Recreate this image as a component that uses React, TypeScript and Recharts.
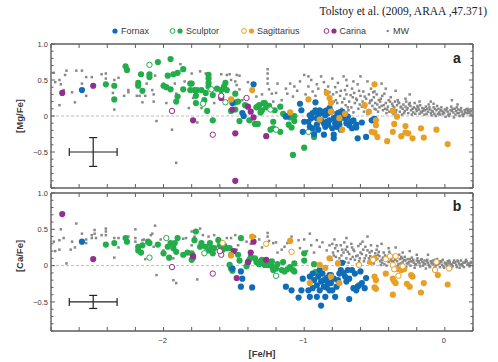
import React from 'react';
import { ScatterChart, Scatter, XAxis, YAxis, ReferenceLine, ErrorBar } from 'recharts';

type Pt = [number, number];

// tick positions
const xTicks = [-2.8, -2.6, -2.4, -2.2, -2.0, -1.8, -1.6, -1.4, -1.2, -1.0, -0.8, -0.6, -0.4, -0.2, 0.0, 0.2];
const xLabels = [-2, -1, 0];
const yTicksA = [-1.0, -0.9, -0.8, -0.7, -0.6, -0.5, -0.4, -0.3, -0.2, -0.1, 0, 0.1, 0.2, 0.3, 0.4, 0.5, 0.6, 0.7, 0.8, 0.9, 1.0];
const yTicksB = [-0.9, -0.8, -0.7, -0.6, -0.5, -0.4, -0.3, -0.2, -0.1, 0, 0.1, 0.2, 0.3, 0.4, 0.5, 0.6, 0.7, 0.8, 0.9, 1.0];
const yLabels = [-0.5, 0, 0.5, 1.0];

// ---- panel a: [Mg/Fe] ----
const mwMg: Pt[] = [
  [-2.78, 0.60], [-2.77, 0.47], [-2.74, 0.50], [-2.73, 0.44], [-2.71, 0.36], [-2.74, 0.15], [-2.70, 0.57], [-2.69, 0.63],
  [-2.62, 0.63], [-2.58, 0.63], [-2.58, 0.45], [-2.55, 0.54], [-2.55, 0.28], [-2.65, 0.33], [-2.63, 0.19], [-2.51, 0.54],
  [-2.44, 0.58], [-2.41, 0.59], [-2.41, 0.52], [-2.35, 0.50], [-2.32, 0.53], [-2.36, 0.32], [-2.35, 0.09], [-2.25, 0.36],
  [-2.25, 0.33], [-2.28, 0.28], [-2.19, 0.28], [-2.17, 0.28], [-2.15, 0.19], [-2.13, 0.28], [-2.12, 0.45], [-2.08, 0.36],
  [-2.07, 0.30], [-2.07, 0.20], [-2.06, 0.56], [-2.05, -0.07], [-2.00, 0.45], [-1.92, 0.45], [-1.91, 0.31], [-1.94, -0.19],
  [-1.91, -0.65], [-1.88, 0.72], [-1.85, 0.48], [-1.82, 0.11], [-1.98, 0.18],
  [-1.80, 0.59], [-1.74, 0.62], [-1.70, 0.59], [-1.59, 0.58], [-1.55, 0.57], [-1.53, 0.58], [-1.48, 0.57], [-1.46, 0.56],
  [-1.49, 0.48], [-1.48, 0.43], [-1.46, 0.37], [-1.44, 0.22], [-1.26, 0.65], [-1.26, 0.59], [-1.26, 0.52], [-1.26, 0.45],
  [-1.25, 0.37], [-1.23, 0.31], [-1.20, 0.32], [-1.16, 0.22], [-1.13, 0.38], [-1.12, 0.31], [-1.10, 0.45], [-1.07, 0.41],
  [-1.03, 0.48], [-1.00, 0.57], [-0.97, 0.55], [-0.97, 0.41], [-0.95, 0.50], [-0.94, 0.34], [-0.91, 0.44], [-0.88, 0.55],
  [-0.85, 0.36], [-0.83, 0.41], [-1.76, -0.09], [-1.73, 0.11], [-1.79, 0.25], [-1.64, 0.18], [-1.52, 0.50], [-1.19, 0.45],
  [-1.34, 0.27], [-1.62, 0.40], [-1.57, 0.45], [-1.40, 0.47], [-1.30, 0.30], [-1.22, 0.20], [-1.08, 0.27], [-1.05, 0.35],
  [-0.99, 0.30], [-0.92, 0.28], [-0.90, 0.38], [-0.86, 0.47], [-0.82, 0.33],
  [-0.80, 0.52], [-0.795, 0.30], [-0.81, 0.12], [-0.78, 0.40], [-0.775, 0.22], [-0.785, 0.05], [-0.76, 0.46], [-0.765, 0.18],
  [-0.74, 0.35], [-0.735, 0.10], [-0.745, 0.28], [-0.72, 0.55], [-0.715, 0.24], [-0.70, 0.30], [-0.705, 0.15], [-0.695, 0.42],
  [-0.68, 0.20], [-0.685, 0.08], [-0.66, 0.38], [-0.655, 0.26], [-0.665, 0.12], [-0.64, 0.18], [-0.645, 0.32], [-0.62, 0.44],
  [-0.615, 0.10], [-0.625, 0.22], [-0.60, 0.28], [-0.605, 0.16], [-0.58, 0.34], [-0.575, 0.06], [-0.585, 0.20], [-0.56, 0.24],
  [-0.565, 0.12], [-0.54, 0.30], [-0.535, 0.18], [-0.545, 0.08], [-0.52, 0.22], [-0.515, 0.14], [-0.525, 0.38], [-0.50, 0.10],
  [-0.505, 0.26], [-0.495, 0.18], [-0.48, 0.16], [-0.475, 0.06], [-0.485, 0.30], [-0.46, 0.20], [-0.465, 0.12], [-0.455, 0.24],
  [-0.44, 0.08], [-0.435, 0.15], [-0.445, 0.28], [-0.42, 0.18], [-0.425, 0.10], [-0.415, 0.04], [-0.40, 0.22], [-0.405, 0.13],
  [-0.395, 0.06], [-0.38, 0.09], [-0.375, 0.17], [-0.385, 0.26], [-0.36, 0.12], [-0.365, 0.03], [-0.355, 0.20], [-0.34, 0.15],
  [-0.345, 0.08], [-0.335, 0.22], [-0.32, 0.06], [-0.315, 0.12], [-0.325, 0.18], [-0.30, 0.10], [-0.305, 0.02], [-0.295, 0.16],
  [-0.28, 0.13], [-0.285, 0.07], [-0.275, 0.20], [-0.26, 0.04], [-0.265, 0.11], [-0.255, 0.16], [-0.24, 0.08], [-0.245, 0.14],
  [-0.235, 0.02], [-0.22, 0.12], [-0.225, 0.05], [-0.215, 0.18], [-0.20, 0.07], [-0.205, 0.10], [-0.195, 0.14], [-0.18, 0.03],
  [-0.185, 0.09], [-0.175, 0.15], [-0.16, 0.11], [-0.165, 0.05], [-0.155, 0.07], [-0.14, 0.08], [-0.145, 0.02], [-0.135, 0.13],
  [-0.12, 0.06], [-0.125, 0.10], [-0.115, 0.16], [-0.10, 0.04], [-0.105, 0.09], [-0.095, 0.01], [-0.08, 0.12], [-0.085, 0.06],
  [-0.075, 0.03], [-0.06, 0.08], [-0.065, 0.00], [-0.055, 0.14], [-0.04, 0.05], [-0.045, 0.10], [-0.035, 0.02], [-0.02, 0.07],
  [-0.025, 0.12], [-0.015, 0.03], [0.00, 0.09], [-0.005, 0.04], [0.005, -0.01], [0.02, 0.06], [0.015, 0.11], [0.025, 0.02],
  [0.04, 0.08], [0.035, 0.03], [0.045, 0.13], [0.06, 0.05], [0.055, 0.10], [0.065, -0.02], [0.08, 0.07], [0.075, 0.02],
  [0.085, 0.12], [0.10, 0.04], [0.095, 0.09], [0.105, 0.00], [0.12, 0.06], [0.115, 0.11], [0.125, 0.02], [0.14, 0.08],
  [0.135, 0.03], [0.145, 0.05], [0.16, 0.10], [0.155, 0.04], [0.165, 0.07], [0.18, 0.06], [0.175, 0.09], [0.185, 0.02],
  [-0.60, 0.55], [-0.45, 0.45], [-0.55, 0.48], [-0.35, 0.35], [-0.25, 0.30], [-0.10, 0.20], [0.05, 0.22],
  [-0.79, 0.20], [-0.77, 0.33], [-0.75, 0.08], [-0.73, 0.19], [-0.71, 0.36], [-0.69, 0.12], [-0.67, 0.29], [-0.65, 0.05],
  [-0.63, 0.24], [-0.61, 0.35], [-0.59, 0.13], [-0.57, 0.27], [-0.55, 0.03], [-0.53, 0.21], [-0.51, 0.33], [-0.49, 0.09],
  [-0.47, 0.22], [-0.45, 0.14], [-0.43, 0.31], [-0.41, 0.09], [-0.39, 0.20], [-0.37, 0.14], [-0.35, 0.05], [-0.33, 0.19],
  [-0.31, 0.13], [-0.29, 0.04], [-0.27, 0.09], [-0.25, 0.18], [-0.23, 0.10], [-0.21, 0.03], [-0.19, 0.12], [-0.17, 0.06],
  [-0.15, 0.10], [-0.13, 0.03], [-0.11, 0.12], [-0.09, 0.07], [-0.07, 0.10], [-0.05, 0.03], [-0.03, 0.08], [-0.01, 0.05],
  [0.01, 0.08], [0.03, 0.00], [0.05, 0.07], [0.07, 0.10], [0.09, 0.04], [0.11, 0.08], [0.13, 0.00], [0.15, 0.09],
  [0.17, 0.04], [0.19, 0.07], [-0.28, 0.24], [-0.18, 0.20], [-0.08, 0.17], [0.09, 0.16], [-0.42, 0.38], [-0.65, 0.48],
  [-0.70, 0.50], [-0.50, 0.34],
];
const sclMg: Pt[] = [
  [-2.27, 0.69], [-2.26, 0.64], [-2.41, 0.44], [-2.35, 0.42], [-2.35, 0.23], [-2.18, 0.46], [-2.18, 0.42], [-2.16, 0.58],
  [-2.15, 0.35], [-2.10, 0.58], [-2.10, 0.54], [-2.04, 0.75], [-1.95, 0.79], [-1.97, 0.56], [-1.93, 0.58], [-1.90, 0.60],
  [-1.86, 0.65], [-2.00, 0.42], [-1.98, 0.40], [-1.95, 0.37], [-1.90, 0.27], [-1.91, 0.20], [-1.86, 0.37], [-1.81, 0.45],
  [-1.81, 0.36], [-1.80, 0.45], [-1.78, 0.36], [-1.76, 0.36], [-1.73, 0.36], [-1.77, 0.28], [-1.77, 0.18], [-1.71, 0.22],
  [-1.70, 0.32], [-1.69, 0.07], [-1.68, 0.57], [-1.68, 0.52], [-1.68, 0.46], [-1.68, 0.41], [-1.65, 0.29], [-1.65, -0.06],
  [-1.62, 0.38], [-1.59, 0.36], [-1.56, 0.46], [-1.57, 0.41], [-1.55, 0.36], [-1.49, 0.31], [-1.49, 0.19], [-1.47, 0.20],
  [-1.52, 0.07], [-1.49, 0.09], [-1.46, -0.07], [-1.39, -0.06], [-1.33, 0.13], [-1.32, 0.15], [-1.29, 0.18], [-1.35, -0.11],
  [-1.33, -0.11], [-1.30, 0.08], [-1.21, 0.08], [-1.22, -0.08], [-1.24, -0.19], [-1.17, 0.13], [-1.15, 0.03], [-1.10, -0.02],
  [-1.11, -0.12], [-1.09, -0.16], [-1.07, -0.07], [-1.07, 0.00], [-1.00, -0.44], [-0.93, -0.29], [-1.08, -0.54],
  [-1.17, -0.22], [-1.22, -0.17], [-1.28, 0.18], [-1.42, 0.15], [-1.34, 0.12], [-1.25, 0.14], [-1.27, 0.12], [-1.31, 0.05],
];
const sclMgOpen: Pt[] = [[-2.10, 0.71], [-1.66, 0.37], [-1.72, 0.17], [-1.56, 0.19], [-1.24, 0.09], [-1.20, -0.19], [-0.97, -0.22]];
const carMg: Pt[] = [
  [-2.72, 0.32], [-2.50, 0.42], [-1.79, -0.06], [-1.59, 0.25], [-1.51, 0.09], [-1.40, 0.13], [-1.38, 0.06], [-1.36, -0.02],
  [-1.49, -0.24], [-1.27, -0.28], [-1.49, -0.90],
];
const carMgOpen: Pt[] = [[-1.94, 0.07], [-1.65, -0.26], [-1.41, 0.25], [-1.59, 0.28]];
const fnxMg: Pt[] = [
  [-2.58, 0.36], [-1.36, 0.44], [-1.51, 0.18], [-1.44, 0.04], [-1.43, 0.00], [-1.13, -0.01], [-1.12, 0.00], [-1.03, 0.17],
  [-1.02, 0.08], [-1.01, -0.22], [-1.00, -0.08], [-0.92, 0.19], [-0.96, 0.01], [-0.95, -0.03], [-0.94, 0.04], [-0.91, 0.06],
  [-0.90, 0.01], [-0.89, 0.08], [-0.88, 0.04], [-0.86, 0.06], [-0.85, 0.01], [-0.84, 0.08], [-0.83, 0.04], [-0.82, 0.11],
  [-0.81, 0.06], [-0.88, -0.06], [-0.86, -0.10], [-0.85, -0.15], [-0.86, -0.26], [-0.84, -0.08], [-0.83, -0.12], [-0.82, -0.06],
  [-0.79, -0.03], [-0.79, -0.26], [-0.79, -0.31], [-0.77, -0.01], [-0.76, 0.04], [-0.75, -0.06], [-0.73, 0.06], [-0.72, 0.01],
  [-0.71, -0.03], [-0.70, -0.10], [-0.69, -0.01], [-0.67, -0.08], [-0.66, -0.17], [-0.65, -0.06], [-0.63, -0.12], [-0.62, -0.31],
  [-0.59, -0.09], [-0.56, -0.29], [-0.52, -0.06], [-0.92, 0.08], [-0.97, -0.08], [-0.91, -0.12], [-0.90, -0.19], [-0.77, -0.15],
  [-0.75, -0.12], [-0.96, -0.15], [-0.94, -0.17], [-0.93, -0.25], [-0.91, -0.03], [-0.78, -0.10], [-0.74, -0.19], [-0.68, -0.13],
  [-0.80, -0.17], [-0.63, -0.16], [-0.50, -0.04], [-0.71, 0.03],
];
const sgrMg: Pt[] = [
  [-1.52, 0.23], [-1.37, 0.36], [-1.10, 0.05], [-0.97, 0.23], [-0.89, -0.05], [-0.84, 0.32], [-0.82, 0.25], [-0.81, 0.18],
  [-0.81, 0.06], [-0.50, 0.44], [-0.75, -0.03], [-0.73, -0.19], [-0.71, 0.03], [-0.57, 0.15], [-0.54, 0.06], [-0.49, -0.06],
  [-0.49, -0.13], [-0.52, -0.22], [-0.50, -0.23], [-0.48, -0.29], [-0.41, -0.35], [-0.37, 0.07], [-0.34, -0.01], [-0.36, -0.11],
  [-0.37, -0.22], [-0.31, -0.28], [-0.28, -0.23], [-0.28, -0.14], [-0.26, -0.24], [-0.23, -0.31], [-0.17, -0.17], [-0.15, -0.30],
  [-0.06, -0.19], [0.02, -0.39],
];
const errA = [{ x: -2.5, y: -0.5, ex: 0.17, ey: 0.2 }];

// ---- panel b: [Ca/Fe] ----
const mwCa: Pt[] = [
  [-2.78, 0.33], [-2.77, 0.20], [-2.73, 0.50], [-2.74, 0.35], [-2.71, 0.38], [-2.74, 0.22], [-2.69, 0.03], [-2.65, 0.33],
  [-2.66, 0.22], [-2.63, 0.25], [-2.62, 0.58], [-2.58, 0.44], [-2.55, 0.36], [-2.55, 0.31], [-2.51, 0.42], [-2.51, 0.38],
  [-2.49, 0.49], [-2.49, 0.44], [-2.48, 0.38], [-2.44, 0.42], [-2.41, 0.51], [-2.41, 0.47], [-2.41, 0.42], [-2.35, 0.38],
  [-2.32, 0.38], [-2.32, 0.25], [-2.35, 0.11], [-2.25, 0.40], [-2.20, 0.50], [-2.20, 0.38], [-2.20, 0.33], [-2.15, 0.35],
  [-2.14, 0.36], [-2.09, 0.42], [-2.08, 0.44], [-2.06, 0.55], [-2.07, 0.26], [-2.13, 0.09], [-2.02, 0.36], [-2.05, -0.13],
  [-2.00, 0.21], [-1.93, -0.20], [-1.91, -0.24], [-1.93, 0.10], [-1.86, 0.37], [-1.84, 0.38], [-1.80, 0.28],
  [-1.80, 0.47], [-1.74, 0.51], [-1.72, 0.42], [-1.68, 0.40], [-1.64, 0.42], [-1.61, 0.38], [-1.55, 0.38], [-1.52, 0.38],
  [-1.49, 0.42], [-1.47, 0.28], [-1.48, 0.22], [-1.41, 0.33], [-1.35, 0.40], [-1.32, 0.36], [-1.26, 0.45], [-1.26, 0.40],
  [-1.25, 0.34], [-1.22, 0.31], [-1.20, 0.32], [-1.19, 0.18], [-1.16, 0.22], [-1.14, 0.26], [-1.12, 0.31], [-1.09, 0.40],
  [-1.04, 0.35], [-1.03, 0.24], [-1.00, 0.36], [-0.96, 0.44], [-0.95, 0.28], [-0.91, 0.35], [-0.89, 0.26], [-0.87, 0.32],
  [-0.84, 0.21], [-0.82, 0.28], [-1.76, -0.19], [-1.78, 0.40], [-1.58, 0.33], [-1.44, 0.36], [-1.38, 0.30], [-1.30, 0.25],
  [-1.10, 0.20], [-0.98, 0.20], [-0.93, 0.18],
  [-0.80, 0.30], [-0.795, 0.18], [-0.805, 0.08], [-0.78, 0.24], [-0.775, 0.12], [-0.785, 0.36], [-0.76, 0.20], [-0.765, 0.05],
  [-0.74, 0.28], [-0.735, 0.14], [-0.745, 0.02], [-0.72, 0.18], [-0.715, 0.32], [-0.70, 0.10], [-0.705, 0.22], [-0.695, 0.26],
  [-0.68, 0.16], [-0.685, 0.04], [-0.66, 0.25], [-0.655, 0.12], [-0.665, 0.30], [-0.64, 0.08], [-0.645, 0.20], [-0.62, 0.14],
  [-0.615, 0.27], [-0.625, 0.02], [-0.60, 0.18], [-0.605, 0.10], [-0.58, 0.22], [-0.575, 0.06], [-0.585, 0.33], [-0.56, 0.14],
  [-0.565, 0.26], [-0.54, 0.10], [-0.535, 0.18], [-0.545, 0.04], [-0.52, 0.20], [-0.515, 0.08], [-0.525, 0.28], [-0.50, 0.12],
  [-0.505, 0.03], [-0.495, 0.17], [-0.48, 0.09], [-0.475, 0.15], [-0.485, 0.22], [-0.46, 0.06], [-0.465, 0.13], [-0.455, 0.01],
  [-0.44, 0.11], [-0.435, 0.18], [-0.445, 0.04], [-0.42, 0.08], [-0.425, 0.14], [-0.415, 0.00], [-0.40, 0.05], [-0.405, 0.12],
  [-0.395, 0.19], [-0.38, 0.10], [-0.375, 0.02], [-0.385, 0.07], [-0.36, 0.13], [-0.365, 0.04], [-0.355, 0.08], [-0.34, 0.06],
  [-0.345, 0.11], [-0.335, -0.01], [-0.32, 0.09], [-0.315, 0.03], [-0.325, 0.15], [-0.30, 0.05], [-0.305, 0.10], [-0.295, 0.01],
  [-0.28, 0.07], [-0.285, 0.12], [-0.275, -0.02], [-0.26, 0.03], [-0.265, 0.09], [-0.255, 0.05], [-0.24, 0.06], [-0.245, 0.00],
  [-0.235, 0.11], [-0.22, 0.04], [-0.225, 0.08], [-0.215, -0.03], [-0.20, 0.07], [-0.205, 0.02], [-0.195, 0.10], [-0.18, 0.03],
  [-0.185, 0.06], [-0.175, -0.01], [-0.16, 0.05], [-0.165, 0.09], [-0.155, 0.00], [-0.14, 0.02], [-0.145, 0.07], [-0.135, -0.04],
  [-0.12, 0.04], [-0.125, 0.08], [-0.115, 0.01], [-0.10, 0.06], [-0.105, -0.02], [-0.095, 0.03], [-0.08, 0.02], [-0.085, 0.07],
  [-0.075, -0.03], [-0.06, 0.05], [-0.065, 0.00], [-0.055, 0.09], [-0.04, 0.03], [-0.045, 0.06], [-0.035, -0.02], [-0.02, 0.01],
  [-0.025, 0.05], [-0.015, 0.08], [0.00, 0.04], [-0.005, -0.03], [0.005, 0.02], [0.02, 0.06], [0.015, 0.00], [0.025, 0.03],
  [0.04, 0.02], [0.035, 0.05], [0.045, -0.04], [0.06, 0.04], [0.055, -0.01], [0.065, 0.07], [0.08, 0.01], [0.075, 0.05],
  [0.085, -0.02], [0.10, 0.03], [0.095, 0.06], [0.105, -0.03], [0.12, 0.02], [0.115, 0.07], [0.125, 0.00], [0.14, 0.04],
  [0.135, -0.02], [0.145, 0.05], [0.16, 0.01], [0.155, 0.06], [0.165, 0.03], [0.18, 0.03], [0.175, -0.01], [0.185, 0.05],
  [-0.55, 0.40], [-0.45, 0.30], [-0.35, 0.25], [-0.70, 0.38], [-0.25, 0.20], [-0.12, 0.15],
  [-0.79, 0.14], [-0.77, 0.28], [-0.75, 0.10], [-0.73, 0.22], [-0.71, 0.05], [-0.69, 0.19], [-0.67, 0.09], [-0.65, 0.22],
  [-0.63, 0.13], [-0.61, 0.06], [-0.59, 0.16], [-0.57, 0.10], [-0.55, 0.21], [-0.53, 0.13], [-0.51, 0.06], [-0.49, 0.13],
  [-0.47, 0.19], [-0.45, 0.08], [-0.43, 0.02], [-0.41, 0.10], [-0.39, 0.15], [-0.37, 0.06], [-0.35, 0.10], [-0.33, 0.02],
  [-0.31, 0.12], [-0.29, 0.08], [-0.27, 0.03], [-0.25, 0.09], [-0.23, 0.06], [-0.21, 0.01], [-0.19, 0.05], [-0.17, 0.08],
  [-0.15, 0.03], [-0.13, 0.06], [-0.11, -0.01], [-0.09, 0.04], [-0.07, 0.08], [-0.05, 0.02], [-0.03, 0.06], [-0.01, -0.01],
  [0.01, 0.03], [0.03, 0.07], [0.05, 0.01], [0.07, 0.04], [0.09, 0.07], [0.11, 0.01], [0.13, 0.04], [0.15, 0.08],
  [0.17, 0.02], [0.19, 0.04], [-0.60, 0.30], [-0.48, 0.27], [-0.40, 0.24], [-0.30, 0.18], [-0.20, 0.15],
];
const sclCa: Pt[] = [
  [-2.41, 0.29], [-2.35, 0.31], [-2.27, 0.38], [-2.26, 0.33], [-2.18, 0.26], [-2.18, 0.21], [-2.16, 0.18], [-2.15, 0.28],
  [-2.11, 0.33], [-2.10, 0.31], [-2.04, 0.29], [-2.00, 0.17], [-1.97, 0.26], [-1.95, 0.31], [-1.93, 0.24], [-1.92, 0.31],
  [-1.90, 0.38], [-1.91, 0.19], [-1.96, 0.11], [-1.86, 0.15], [-1.83, 0.18], [-1.80, 0.08],
  [-1.80, 0.17], [-1.79, 0.11], [-1.78, 0.35], [-1.77, 0.47], [-1.74, 0.26], [-1.73, 0.31], [-1.70, 0.26], [-1.68, 0.21],
  [-1.67, 0.31], [-1.66, 0.24], [-1.65, 0.17], [-1.64, 0.24], [-1.61, 0.35], [-1.60, 0.28], [-1.58, 0.22], [-1.57, 0.28],
  [-1.55, 0.24], [-1.53, 0.24], [-1.53, 0.01], [-1.52, -0.04], [-1.51, -0.07], [-1.47, 0.15], [-1.46, 0.07], [-1.41, -0.01],
  [-1.40, 0.04], [-1.39, 0.08], [-1.38, 0.12], [-1.35, 0.10], [-1.34, 0.05], [-1.33, 0.04], [-1.32, 0.02], [-1.30, 0.08],
  [-1.28, 0.01], [-1.26, 0.01], [-1.25, 0.05], [-1.23, -0.01], [-1.22, -0.06], [-1.20, -0.04], [-1.19, 0.02], [-1.16, -0.06],
  [-1.15, 0.05], [-1.14, -0.08], [-1.12, -0.05], [-1.10, -0.02], [-1.08, -0.06], [-1.07, 0.03], [-1.07, -0.08], [-1.00, 0.17],
  [-1.00, 0.07], [-0.93, 0.02], [-1.45, 0.38], [-1.52, 0.15], [-1.31, 0.06], [-1.23, 0.06], [-0.92, -0.09], [-0.90, -0.09],
];
const sclCaOpen: Pt[] = [[-1.98, 0.38], [-2.10, 0.11], [-1.71, 0.17], [-1.20, -0.14]];
const carCa: Pt[] = [
  [-2.72, 0.71], [-2.50, 0.09], [-1.79, 0.13], [-1.50, 0.20], [-1.36, 0.33], [-1.38, 0.18], [-1.40, 0.05], [-1.48, -0.17],
  [-1.27, 0.08],
];
const carCaOpen: Pt[] = [[-1.94, -0.02], [-1.65, -0.11], [-1.59, 0.15], [-1.60, 0.20]];
const fnxCa: Pt[] = [
  [-2.58, 0.33], [-1.51, -0.04], [-1.45, -0.08], [-1.44, -0.18], [-1.45, -0.29], [-1.37, -0.30], [-1.13, -0.29], [-1.09, -0.34],
  [-1.02, -0.34], [-1.04, -0.44], [-1.01, -0.18], [-0.96, -0.15], [-0.94, -0.11], [-0.93, -0.20], [-0.91, -0.27], [-0.90, -0.15],
  [-0.89, -0.34], [-0.88, -0.22], [-0.87, -0.11], [-0.86, -0.29], [-0.85, -0.43], [-0.84, -0.17], [-0.83, -0.24], [-0.82, -0.34],
  [-0.81, -0.13], [-0.88, -0.55], [-0.91, -0.43], [-0.97, -0.34], [-0.89, -0.06], [-0.94, -0.31], [-0.96, -0.43],
  [-0.82, -0.13], [-0.81, -0.24], [-0.80, -0.34], [-0.78, -0.43], [-0.77, -0.29], [-0.76, -0.20], [-0.75, -0.11], [-0.74, -0.06],
  [-0.73, 0.04], [-0.71, -0.15], [-0.70, -0.22], [-0.69, -0.06], [-0.68, -0.18], [-0.66, -0.06], [-0.65, -0.31], [-0.63, -0.34],
  [-0.62, -0.29], [-0.61, -0.27], [-0.59, -0.24], [-0.57, -0.31], [-0.68, -0.46], [-0.56, -0.17], [-0.86, -0.20], [-0.79, -0.18],
  [-0.72, -0.10], [-0.84, -0.30], [-0.64, -0.11], [-0.60, -0.08],
];
const sgrCa: Pt[] = [
  [-1.52, 0.14], [-1.37, 0.40], [-1.10, 0.34], [-0.89, 0.01], [-0.85, -0.03], [-0.96, -0.24], [-0.82, 0.10], [-0.81, -0.15],
  [-0.76, 0.03], [-0.75, -0.24], [-0.53, 0.05], [-0.50, 0.10], [-0.50, -0.15], [-0.49, -0.20], [-0.50, -0.30], [-0.49, -0.32],
  [-0.42, -0.11], [-0.37, -0.18], [-0.36, -0.22], [-0.35, -0.24], [-0.33, -0.05], [-0.31, -0.06], [-0.29, -0.05], [-0.27, -0.25],
  [-0.25, -0.29], [-0.24, -0.13], [-0.23, -0.15], [-0.15, -0.24], [-0.17, -0.37], [-0.37, -0.40], [-0.05, -0.13], [0.02, -0.26],
];
const sgrCaOpen: Pt[] = [
  [-1.58, 0.31], [-1.27, 0.30], [-1.09, 0.19], [-0.61, 0.01], [-0.51, 0.08], [-0.42, 0.09], [-0.39, 0.13], [-0.35, 0.13],
  [-0.37, 0.01], [-0.36, -0.05], [-0.33, -0.14], [-0.30, -0.01], [-0.06, 0.05], [-0.07, -0.06], [0.03, -0.04],
];
const errB = [{ x: -2.5, y: -0.5, ex: 0.17, ey: 0.09 }];

const C = {
  fnx: '#0f6db8',
  scl: '#22ad4a',
  sgr: '#e8a024',
  car: '#922f8e',
  mw: '#888888',
  frame: '#5e5e5e',
  text: '#3a3a3a',
};
const FONT = '"Liberation Sans", Arial, sans-serif';

const pts = (a: Pt[]) => a.map(([x, y]) => ({ x, y }));

const dot = (color: string) => (p: any) => <circle cx={p.cx} cy={p.cy} r={3.1} fill={color} />;
const ring = (color: string) => (p: any) => (
  <circle cx={p.cx} cy={p.cy} r={2.7} fill="#fff" stroke={color} strokeWidth={1} />
);
const square = (p: any) => <rect x={p.cx - 1.25} y={p.cy - 1.25} width={2.5} height={2.5} fill={C.mw} />;
const none = () => <g />;

const fmt = (v: number, isY: boolean) => {
  if (v === 0) return '0';
  const s = isY ? Math.abs(v).toFixed(1) : String(Math.abs(v));
  return v < 0 ? `\u2212${s}` : s;
};

const AxisTick = ({ x, y, payload, side, labels }: any) => {
  const v = Math.round(payload.value * 10) / 10;
  const isY = side === 'left' || side === 'right';
  const major = !isY || Math.abs(v * 2 - Math.round(v * 2)) < 1e-6;
  const len = major ? 4 : 2.5;
  const show = labels.some((l: number) => Math.abs(l - v) < 1e-6);
  let line;
  if (side === 'bottom') line = <line x1={x} y1={y} x2={x} y2={y - len} />;
  else if (side === 'top') line = <line x1={x} y1={y} x2={x} y2={y + len} />;
  else if (side === 'left') line = <line x1={x} y1={y} x2={x + len} y2={y} />;
  else line = <line x1={x} y1={y} x2={x - len} y2={y} />;
  return (
    <g>
      <g stroke={C.frame} strokeWidth={1}>{line}</g>
      {show && side === 'left' && (
        <text x={x - 3} y={y} dy="0.35em" textAnchor="end" fontSize={7.5} fill={C.text} fontFamily={FONT}>
          {fmt(v, true)}
        </text>
      )}
      {show && side === 'bottom' && (
        <text x={x - 1} y={y + 9} dy="0.35em" textAnchor="middle" fontSize={7.5} fill={C.text} fontFamily={FONT}>
          {fmt(v, false)}
        </text>
      )}
    </g>
  );
};

const axisLine = { stroke: C.frame, strokeWidth: 1.4 };

interface PanelProps {
  yTicks: number[];
  yDomain: [number, number];
  height: number;
  topH: number;
  bottomH: number;
  showX: boolean;
  mw: Pt[];
  scl: Pt[];
  sclOpen: Pt[];
  car: Pt[];
  carOpen: Pt[];
  fnx: Pt[];
  sgr: Pt[];
  sgrOpen: Pt[];
  err: { x: number; y: number; ex: number; ey: number }[];
}

const Panel = (p: PanelProps) => (
  <ScatterChart width={498} height={p.height} margin={{ top: 0, right: 0, bottom: 0, left: 0 }}>
    <XAxis
      xAxisId="b" orientation="bottom" type="number" dataKey="x" domain={[-2.8, 0.2]} ticks={xTicks}
      interval={0} allowDataOverflow height={p.bottomH} tickSize={0} tickMargin={0} tickLine={false}
      axisLine={axisLine} tick={(t: any) => <AxisTick {...t} side="bottom" labels={p.showX ? xLabels : []} />}
    />
    <XAxis
      xAxisId="t" orientation="top" type="number" dataKey="x" domain={[-2.8, 0.2]} ticks={xTicks}
      interval={0} allowDataOverflow height={p.topH} tickSize={0} tickMargin={0} tickLine={false}
      axisLine={axisLine} tick={(t: any) => <AxisTick {...t} side="top" labels={[]} />}
    />
    <YAxis
      yAxisId="l" orientation="left" type="number" dataKey="y" domain={p.yDomain} ticks={p.yTicks}
      interval={0} allowDataOverflow width={51} tickSize={0} tickMargin={0} tickLine={false}
      axisLine={axisLine} tick={(t: any) => <AxisTick {...t} side="left" labels={yLabels} />}
    />
    <YAxis
      yAxisId="r" orientation="right" type="number" dataKey="y" domain={p.yDomain} ticks={p.yTicks}
      interval={0} allowDataOverflow width={25} tickSize={0} tickMargin={0} tickLine={false}
      axisLine={axisLine} tick={(t: any) => <AxisTick {...t} side="right" labels={[]} />}
    />
    <ReferenceLine xAxisId="b" yAxisId="l" y={0} stroke="#bcbcbc" strokeDasharray="3 2" strokeWidth={1} />
    <Scatter xAxisId="b" yAxisId="l" data={pts(p.mw)} shape={square} isAnimationActive={false} />
    <Scatter xAxisId="b" yAxisId="l" data={pts(p.scl)} shape={dot(C.scl)} isAnimationActive={false} />
    <Scatter xAxisId="b" yAxisId="l" data={pts(p.sclOpen)} shape={ring(C.scl)} isAnimationActive={false} />
    <Scatter xAxisId="b" yAxisId="l" data={pts(p.car)} shape={dot(C.car)} isAnimationActive={false} />
    <Scatter xAxisId="b" yAxisId="l" data={pts(p.carOpen)} shape={ring(C.car)} isAnimationActive={false} />
    <Scatter xAxisId="b" yAxisId="l" data={pts(p.fnx)} shape={dot(C.fnx)} isAnimationActive={false} />
    <Scatter xAxisId="b" yAxisId="l" data={pts(p.sgr)} shape={dot(C.sgr)} isAnimationActive={false} />
    <Scatter xAxisId="b" yAxisId="l" data={pts(p.sgrOpen)} shape={ring(C.sgr)} isAnimationActive={false} />
    <Scatter xAxisId="b" yAxisId="l" data={p.err} shape={none} isAnimationActive={false}>
      <ErrorBar dataKey="ex" direction="x" width={4} stroke="#222" strokeWidth={1.2} isAnimationActive={false} />
      <ErrorBar dataKey="ey" direction="y" width={4} stroke="#222" strokeWidth={1.2} isAnimationActive={false} />
    </Scatter>
  </ScatterChart>
);

const legend = [
  { name: 'Fornax', color: C.fnx, open: false, mx: 115, tx: 121 },
  { name: 'Sculptor', color: C.scl, open: true, mx: 180, tx: 186 },
  { name: 'Sagittarius', color: C.sgr, open: true, mx: 251.5, tx: 257 },
  { name: 'Carina', color: C.car, open: true, mx: 334, tx: 339.5 },
];

export default function App() {
  return (
    <div style={{ position: 'absolute', left: 0, top: 0, width: 498, height: 362, background: '#fff' }}>
      <div style={{ position: 'absolute', left: 0, top: 0 }}>
        <Panel
          yTicks={yTicksA} yDomain={[-1, 1]} height={196} topH={44} bottomH={8} showX={false}
          mw={mwMg} scl={sclMg} sclOpen={sclMgOpen} car={carMg} carOpen={carMgOpen}
          fnx={fnxMg} sgr={sgrMg} sgrOpen={[]} err={errA}
        />
      </div>
      <div style={{ position: 'absolute', left: 0, top: 186 }}>
        <Panel
          yTicks={yTicksB} yDomain={[-0.9, 1]} height={176} topH={7} bottomH={31} showX={true}
          mw={mwCa} scl={sclCa} sclOpen={sclCaOpen} car={carCa} carOpen={carCaOpen}
          fnx={fnxCa} sgr={sgrCa} sgrOpen={sgrCaOpen} err={errB}
        />
      </div>
      <svg width={498} height={362} style={{ position: 'absolute', left: 0, top: 0, pointerEvents: 'none' }}>
        <text x={487} y={11} dy="0.35em" textAnchor="end" fontSize={11.5} fill="#222" fontFamily='"Liberation Serif", "Times New Roman", serif'>
          Tolstoy et al. (2009, ARAA ,47.371)
        </text>
        {legend.map((l) => (
          <g key={l.name}>
            {l.open && <circle cx={l.mx - 7.5} cy={31} r={2.4} fill="#fff" stroke={l.color} strokeWidth={1} />}
            <circle cx={l.mx} cy={31} r={2.6} fill={l.color} />
            <text x={l.tx} y={31} dy="0.35em" fontSize={9} fill={C.text} fontFamily={FONT}>{l.name}</text>
          </g>
        ))}
        <rect x={386.6} y={29.9} width={2.2} height={2.2} fill={C.mw} />
        <text x={393} y={31} dy="0.35em" fontSize={9} fill={C.text} fontFamily={FONT}>MW</text>
        <text x={457} y={58} dy="0.35em" textAnchor="middle" fontSize={14} fontWeight="bold" fill="#222" fontFamily={FONT}>a</text>
        <text x={457} y={206} dy="0.35em" textAnchor="middle" fontSize={14} fontWeight="bold" fill="#222" fontFamily={FONT}>b</text>
        <text x={20} y={116} dy="0.35em" textAnchor="middle" fontSize={9.5} fontWeight="bold" fill={C.text} fontFamily={FONT} transform="rotate(-90 20 116)">
          [Mg/Fe]
        </text>
        <text x={20} y={256} dy="0.35em" textAnchor="middle" fontSize={9.5} fontWeight="bold" fill={C.text} fontFamily={FONT} transform="rotate(-90 20 256)">
          [Ca/Fe]
        </text>
        <text x={262} y={354} dy="0.35em" textAnchor="middle" fontSize={9.5} fontWeight="bold" fill={C.text} fontFamily={FONT}>
          [Fe/H]
        </text>
      </svg>
    </div>
  );
}
